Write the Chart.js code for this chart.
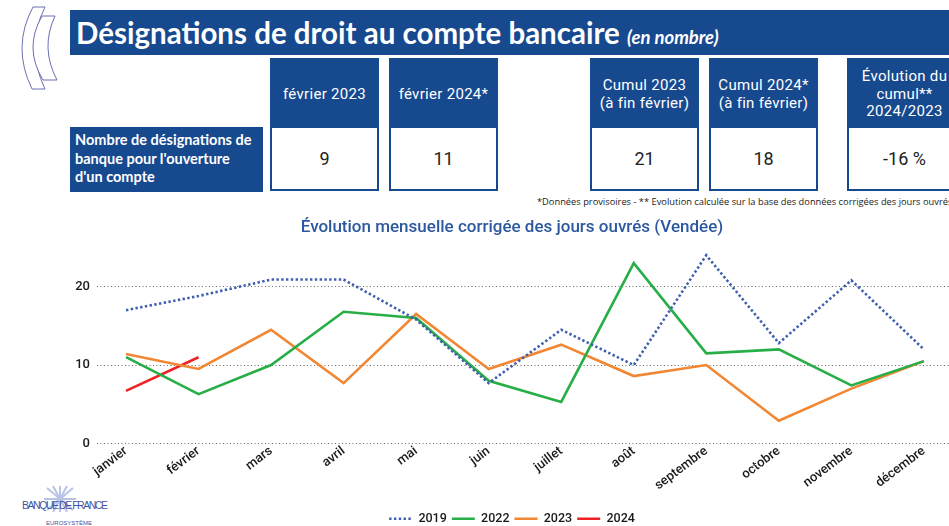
<!DOCTYPE html>
<html lang="fr">
<head>
<meta charset="utf-8">
<script src="https://cdn.jsdelivr.net/npm/chart.js@4.4.1/dist/chart.umd.min.js"></script>
<style>
  html, body { margin: 0; padding: 0; }
  body { width: 949px; height: 526px; overflow: hidden; position: relative; background: #fff; font-family: Roboto, sans-serif; }
  .bandeau { position: absolute; left: 70px; top: 10px; width: 879px; height: 45px; background: #17498f; color: #fff;
             font-family: Lato, sans-serif; font-weight: bold; font-size: 29.5px; line-height: 45px; padding-left: 6px; box-sizing: border-box; white-space: nowrap; }
  .bandeau i { font-size: 18.5px; }
  .libelle { position: absolute; left: 70px; top: 127px; width: 193px; height: 65px; background: #17498f; color: #fff;
             font-family: Lato, sans-serif; font-weight: bold; font-size: 14.5px; line-height: 18.5px; padding: 4px 0 0 5px; box-sizing: border-box; white-space: nowrap; }
  .col { position: absolute; top: 58px; width: 109px; }
  .col .tete { height: 70px; background: #17498f; color: #fff; font-size: 15px; line-height: 17.5px; text-align: center;
               display: flex; align-items: center; justify-content: center; letter-spacing: 0.3px; padding-top: 3px; box-sizing: border-box; }
  .col .val { height: 63px; border: 2px solid #17498f; border-top: none; box-sizing: border-box; background: #fff; color: #222;
              font-size: 18px; display: flex; align-items: center; justify-content: center; }
  .note { position: absolute; left: 537px; top: 195px; font-family: "Open Sans", sans-serif; font-size: 9.3px; color: #222; white-space: nowrap; }
  #graph { position: absolute; left: 0; top: 208px; }
</style>
</head>
<body>
<svg style="position:absolute;left:0;top:0" width="70" height="100">
  <path d="M33,7 L45,7 Q25,47 45,89 L32,89 Q11.5,47 33,7 Z" fill="#fff" stroke="#6b70b3" stroke-width="1"/>
  <path d="M42,16 L55,16 Q40,48 57,80 L43,80 Q23.5,48 42,16 Z" fill="#fff" stroke="#6b70b3" stroke-width="1"/>
</svg>
<div class="bandeau">Désignations de droit au compte bancaire <i>(en nombre)</i></div>
<div class="libelle">Nombre de désignations de<br>banque pour l'ouverture<br>d'un compte</div>
<div class="col" style="left:270px"><div class="tete">février 2023</div><div class="val">9</div></div>
<div class="col" style="left:389px"><div class="tete">février 2024*</div><div class="val">11</div></div>
<div class="col" style="left:590px"><div class="tete">Cumul 2023<br>(à fin février)</div><div class="val">21</div></div>
<div class="col" style="left:709px"><div class="tete">Cumul 2024*<br>(à fin février)</div><div class="val">18</div></div>
<div class="col" style="left:847px;width:115px"><div class="tete">Évolution du<br>cumul**<br>2024/2023</div><div class="val">-16 %</div></div>
<div class="note">*Données provisoires - ** Evolution calculée sur la base des données corrigées des jours ouvrés</div>

<svg style="position:absolute;left:20px;top:484px" width="95" height="42">
  <g stroke="#b9c3e6" stroke-width="2">
    <line x1="40" y1="2" x2="40" y2="28"/><line x1="27" y1="4" x2="53" y2="26"/><line x1="53" y1="4" x2="27" y2="26"/>
    <line x1="24" y1="15" x2="56" y2="15"/><line x1="33" y1="2" x2="47" y2="28"/><line x1="47" y1="2" x2="33" y2="28"/>
  </g>
  <text x="2" y="25" font-family="Liberation Sans Narrow, Liberation Sans, sans-serif" font-size="10.5" fill="#3b56a6" textLength="86">BANQUE DE FRANCE</text>
  <text x="26" y="41" font-family="Liberation Sans, sans-serif" font-size="6" fill="#3b56a6">EUROSYSTÈME</text>
</svg>

<canvas id="graph" width="1024" height="327"></canvas>

<script>
const mois = ['janvier', 'février', 'mars', 'avril', 'mai', 'juin', 'juillet', 'août', 'septembre', 'octobre', 'novembre', 'décembre'];
const serie2019 = [17, 18.8, 20.9, 20.9, 15.8, 7.7, 14.5, 10, 24, 12.8, 20.8, 12];
const serie2022 = [11, 6.3, 10, 16.8, 16, 8, 5.3, 23, 11.5, 12, 7.4, 10.5];
const serie2023 = [11.4, 9.5, 14.5, 7.7, 16.5, 9.5, 12.6, 8.6, 10, 2.9, 7, 10.5];
const serie2024 = [6.7, 11];
const ticksY = [0, 10, 20];

function points(valeurs) {
    return valeurs.map((v, i) => ({ x: i, y: v }));
}

// légende : reprendre le pointillé et l'épaisseur des courbes
function etiquettes(chart) {
    const items = Chart.defaults.plugins.legend.labels.generateLabels(chart);
    items.forEach(it => {
        const ds = chart.data.datasets[it.datasetIndex];
        it.lineDash = ds.borderDash || [];
        it.lineWidth = 2.4;
        it.strokeStyle = ds.borderColor;
    });
    return items;
}

const ctx = document.getElementById('graph').getContext('2d');
new Chart(ctx, {
    type: 'line',
    data: {
        datasets: [
            { label: '2019', data: points(serie2019), borderColor: '#3f5fae', backgroundColor: '#3f5fae', borderWidth: 2.6, borderDash: [2.4, 2.4] },
            { label: '2022', data: points(serie2022), borderColor: '#27ae47', backgroundColor: '#27ae47', borderWidth: 2.6 },
            { label: '2023', data: points(serie2023), borderColor: '#f28733', backgroundColor: '#f28733', borderWidth: 2.6 },
            { label: '2024', data: points(serie2024), borderColor: '#ee2224', backgroundColor: '#ee2224', borderWidth: 2.6 }
        ]
    },
    options: {
        responsive: false,
        animation: false,
        elements: { point: { radius: 0 }, line: { tension: 0 } },
        scales: {
            x: {
                type: 'linear',
                min: -0.4,
                max: 12.38,
                afterBuildTicks: s => { s.ticks = mois.map((m, i) => ({ value: i })); },
                afterFit: s => { s.height = 64; },
                grid: { display: false, drawTicks: false },
                border: { display: false },
                ticks: {
                    autoSkip: false,
                    minRotation: 37,
                    maxRotation: 37,
                    padding: 0,
                    color: '#1a1a1a',
                    font: { family: 'Roboto', size: 13, weight: 500 },
                    callback: v => mois[v]
                }
            },
            y: {
                min: 0,
                max: 25,
                afterBuildTicks: s => { s.ticks = ticksY.map(v => ({ value: v })); },
                afterFit: s => { s.width = 97; },
                border: { display: false, dash: [1, 2.5] },
                grid: { color: '#666', lineWidth: 1, drawTicks: false },
                ticks: { padding: 7, color: '#1a1a1a', font: { family: 'Roboto', size: 13, weight: 500 } }
            }
        },
        plugins: {
            title: {
                display: true,
                text: 'Évolution mensuelle corrigée des jours ouvrés (Vendée)',
                color: '#2c58a0',
                font: { family: 'Roboto', size: 17, weight: 500 },
                padding: { top: 10, bottom: 9 }
            },
            legend: {
                position: 'bottom',
                labels: {
                    usePointStyle: true,
                    pointStyle: 'line',
                    pointStyleWidth: 23,
                    padding: 5,
                    color: '#1a1a1a',
                    font: { family: 'Roboto', size: 12.5, weight: 500 },
                    generateLabels: etiquettes
                }
            },
            tooltip: { enabled: false }
        }
    }
});
</script>
</body>
</html>
